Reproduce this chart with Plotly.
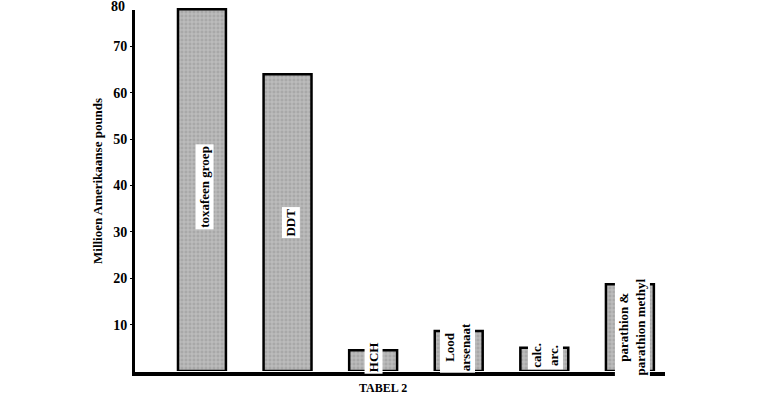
import plotly.graph_objects as go

categories = ["toxafeen groep", "DDT", "HCH", "Lood arsenaat", "calc. arc.", "parathion & parathion methyl"]
values = [78, 64, 4.5, 8.6, 5.0, 18.7]
bar_labels = ["toxafeen groep", "DDT", "HCH", "Lood<br>arsenaat", "calc.<br>arc.", "parathion &<br>parathion methyl"]
tick_values = [10, 20, 30, 40, 50, 60, 70]
y_title = "Millioen Amerikaanse pounds"
caption = "TABEL 2"

# style: label centre heights and x nudges
label_y = [39.7, 32.0, 3.0, 5.1, 3.3, 9.6]
label_dx = [0.035, 0.04, 0.0, -0.01, 0.01, 0.035]

FONT = "Liberation Serif"
idx = list(range(len(categories)))

fig = go.Figure()
fig.add_trace(go.Bar(
    x=idx, y=values, width=0.56,
    marker=dict(color="#a8a8a8",
                line=dict(color="black", width=2.5),
                pattern=dict(shape="+", fgcolor="#e6e6e6", bgcolor="#a8a8a8", size=4, solidity=0.35)),
    hoverinfo="skip", showlegend=False,
))

ann = []
for i, (lab, ly, dx) in enumerate(zip(bar_labels, label_y, label_dx)):
    ann.append(dict(x=i + dx, y=ly, xref="x", yref="y", text="<b>" + lab + "</b>",
                    textangle=-90, showarrow=False, bgcolor="white", borderpad=1,
                    font=dict(family=FONT, size=13, color="black")))

L, R, T, B = 134, 105, 0, 28
pw, ph = 770 - L - R, 399 - T - B

def px_x(px):
    return (px - L) / pw

def px_y(py):
    return (399 - B - py) / ph

ann.append(dict(x=px_x(127), y=px_y(7), xref="paper", yref="paper", text="<b>80</b>",
                xanchor="right", yanchor="middle", showarrow=False,
                font=dict(family=FONT, size=14, color="black")))
ann.append(dict(x=px_x(98), y=px_y(181), xref="paper", yref="paper", text="<b>" + y_title + "</b>",
                textangle=-90, xanchor="center", yanchor="middle", showarrow=False,
                font=dict(family=FONT, size=13, color="black")))
ann.append(dict(x=px_x(383), y=px_y(388), xref="paper", yref="paper", text="<b>" + caption + "</b>",
                xanchor="center", yanchor="middle", showarrow=False,
                font=dict(family=FONT, size=12, color="black")))

shapes = [
    dict(type="line", xref="paper", yref="paper", x0=px_x(133.5), x1=px_x(133.5), y0=px_y(10), y1=px_y(375),
         line=dict(color="black", width=3)),
    dict(type="line", xref="paper", yref="paper", x0=px_x(132), x1=px_x(665), y0=px_y(374), y1=px_y(374),
         line=dict(color="black", width=4)),
]

fig.update_layout(
    width=770, height=399,
    margin=dict(l=L, r=R, t=T, b=B),
    paper_bgcolor="white", plot_bgcolor="white",
    annotations=ann, shapes=shapes,
    xaxis=dict(range=[-0.794, 5.41], showticklabels=False, showgrid=False, zeroline=False,
               showline=False, ticks=""),
    yaxis=dict(range=[0, 80], tickvals=tick_values, showgrid=False, zeroline=False, showline=False,
               ticks="outside", ticklen=3, tickwidth=1, tickcolor="black",
               tickfont=dict(family=FONT, size=14, color="black", weight="bold")),
    bargap=0.4,
)

fig.write_html("out.html", config={"displayModeBar": False},
               post_script="document.body.style.margin='0';document.body.style.overflow='hidden';")
